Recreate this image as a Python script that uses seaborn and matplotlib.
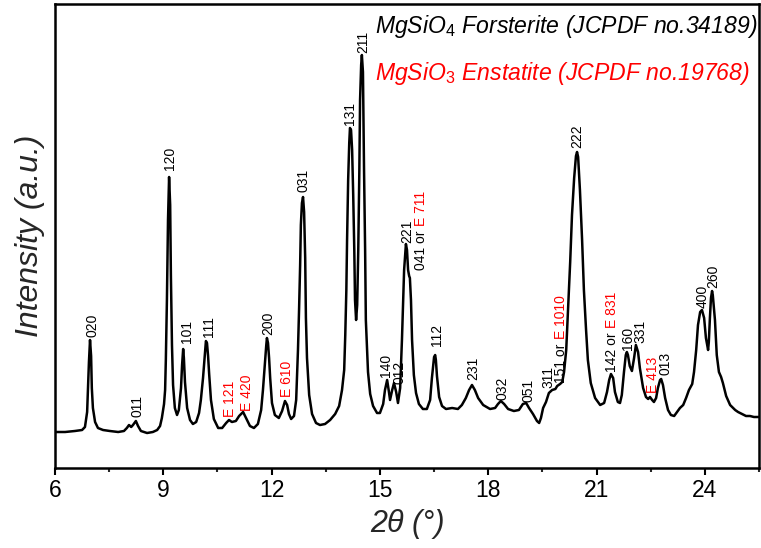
import numpy as np
import pandas as pd
import matplotlib
matplotlib.use("Agg")
import matplotlib.pyplot as plt
from matplotlib.ticker import MultipleLocator
import seaborn as sns

# XRD pattern: 2-theta (degrees) and intensity (arbitrary units)
two_theta = [
    6.03, 6.28, 6.55, 6.75, 6.83, 6.89, 6.91, 6.94, 6.97, 7.00, 7.02, 7.05, 7.11, 7.19, 7.33, 7.52,
    7.75, 7.91, 7.99, 8.05, 8.11, 8.16, 8.24, 8.30, 8.38, 8.55, 8.71, 8.83, 8.91, 8.96, 9.02, 9.05,
    9.07, 9.10, 9.13, 9.16, 9.19, 9.21, 9.24, 9.27, 9.32, 9.38, 9.43, 9.49, 9.52, 9.55, 9.57, 9.60,
    9.66, 9.74, 9.82, 9.91, 9.99, 10.04, 10.10, 10.16, 10.18, 10.21, 10.24, 10.27, 10.32, 10.40,
    10.52, 10.63, 10.74, 10.82, 10.90, 11.01, 11.10, 11.21, 11.29, 11.40, 11.51, 11.62, 11.71,
    11.76, 11.82, 11.85, 11.87, 11.90, 11.93, 11.96, 12.01, 12.09, 12.20, 12.29, 12.37, 12.43,
    12.48, 12.54, 12.62, 12.68, 12.73, 12.76, 12.79, 12.81, 12.84, 12.87, 12.90, 12.93, 12.95,
    12.98, 13.04, 13.12, 13.23, 13.34, 13.48, 13.62, 13.76, 13.87, 13.95, 14.01, 14.04, 14.07,
    14.09, 14.12, 14.15, 14.17, 14.20, 14.23, 14.26, 14.29, 14.31, 14.34, 14.37, 14.40, 14.43,
    14.45, 14.48, 14.50, 14.53, 14.56, 14.59, 14.61, 14.67, 14.73, 14.81, 14.92, 15.00, 15.09,
    15.14, 15.20, 15.25, 15.28, 15.34, 15.39, 15.45, 15.50, 15.56, 15.61, 15.67, 15.72, 15.75,
    15.78, 15.81, 15.83, 15.86, 15.89, 15.94, 16.00, 16.08, 16.19, 16.30, 16.39, 16.44, 16.50,
    16.53, 16.55, 16.58, 16.64, 16.72, 16.83, 17.00, 17.16, 17.27, 17.38, 17.47, 17.55, 17.63,
    17.72, 17.86, 18.05, 18.19, 18.27, 18.35, 18.44, 18.55, 18.71, 18.85, 18.96, 19.05, 19.13,
    19.24, 19.35, 19.41, 19.46, 19.52, 19.60, 19.68, 19.77, 19.86, 19.91, 19.99, 20.05, 20.10,
    20.16, 20.21, 20.27, 20.32, 20.38, 20.43, 20.46, 20.49, 20.54, 20.60, 20.65, 20.71, 20.76,
    20.84, 20.96, 21.10, 21.21, 21.29, 21.35, 21.40, 21.46, 21.51, 21.59, 21.65, 21.70, 21.76,
    21.81, 21.84, 21.87, 21.92, 21.98, 22.04, 22.09, 22.15, 22.20, 22.29, 22.37, 22.43, 22.48,
    22.54, 22.59, 22.65, 22.70, 22.76, 22.79, 22.84, 22.90, 22.98, 23.06, 23.15, 23.23, 23.31,
    23.40, 23.48, 23.56, 23.65, 23.70, 23.76, 23.81, 23.87, 23.92, 23.98, 24.03, 24.09, 24.11,
    24.14, 24.17, 24.20, 24.22, 24.28, 24.33, 24.39, 24.45, 24.50, 24.59, 24.70, 24.84, 24.92,
    25.03, 25.14, 25.25, 25.36, 25.50,
]
intensity = [
    36, 36, 37, 38, 41, 56, 76, 106, 128, 112, 80, 60, 46, 40, 38, 37,
    36, 37, 40, 43, 41, 43, 47, 42, 37, 35, 36, 38, 42, 50, 64, 78,
    108, 168, 248, 291, 263, 193, 123, 83, 60, 53, 58, 80, 103, 119, 110, 86,
    60, 48, 44, 46, 55, 68, 90, 118, 127, 125, 112, 94, 68, 49,
    40, 40, 45, 48, 46, 47, 52, 56, 50, 42, 40, 44, 58,
    78, 108, 122, 130, 125, 110, 90, 65, 53, 50, 57, 67, 63,
    54, 49, 52, 68, 118, 158, 203, 243, 265, 271, 256, 210, 150,
    110, 73, 54, 45, 43, 44, 48, 54, 62, 78, 98, 133, 178,
    228, 288, 325, 340, 338, 318, 273, 218, 168, 148, 163, 218, 298,
    368, 403, 413, 396, 298, 218, 148, 96, 74, 62, 55, 55, 64,
    78, 88, 76, 68, 78, 85, 76, 65, 80, 128, 198, 224, 218,
    198, 192, 190, 168, 128, 93, 75, 64, 59, 59, 68, 90, 111,
    113, 108, 92, 71, 62, 59, 60, 59, 63, 70, 78, 83, 78,
    70, 63, 59, 60, 64, 67, 64, 59, 57, 58, 64, 65, 60,
    54, 47, 45, 50, 60, 66, 75, 78, 79, 82, 84, 86, 96,
    118, 158, 206, 253, 290, 312, 316, 311, 278, 228, 178, 138, 108,
    85, 70, 63, 65, 76, 88, 94, 90, 76, 66, 65, 73, 96,
    113, 116, 113, 102, 97, 110, 123, 116, 100, 80, 71, 69, 71,
    68, 66, 70, 80, 88, 89, 83, 70, 58, 53, 52, 56, 60,
    63, 70, 78, 84, 96, 118, 143, 156, 158, 150, 130, 118, 126,
    150, 170, 177, 173, 148, 113, 96, 91, 85, 72, 63, 58, 56,
    54, 52, 52, 51, 51,
]

# Reflection assignments (forsterite in black, enstatite in red)
label_pos = [6.97, 8.24, 9.16, 9.55, 10.18, 10.82, 11.21, 11.87, 12.37, 12.87,
             14.17, 14.50, 15.20, 15.39, 15.72, 15.83, 16.53, 17.55, 18.35, 19.05,
             19.77, 19.99, 20.46, 21.40, 21.84, 22.09, 22.48, 22.79, 23.92, 24.20]
label_black = ["020", "011", "120", "101", "111", "", "", "200", "", "031",
               "131", "211", "140", "012", "221", "041 or", "112", "231", "032", "051",
               "311", "151 or", "222", "142 or", "160", "331", "", "013", "400", "260"]
label_red = ["", "", "", "", "", "E 121", "E 420", "", "E 610", "",
             "", "", "", "", "", "E 711", "", "", "", "",
             "", "E 1010", "", "E 831", "", "", "E 413", "", "", ""]

legend_lines = ["MgSiO$_4$ Forsterite (JCPDF no.34189)",
                "MgSiO$_3$ Enstatite (JCPDF no.19768)"]

# label offsets from the peak top, in points
label_offset = [(2, 2), (1, 3), (1, 5), (3, 4), (2, 3), (1, 2), (3, 1), (1, 2), (1.5, 3), (0.5, 3.5),
                (0, 2), (1, 1.5), (-0.8, 2), (4.2, -1), (1, 1), (8, 6), (1, 6.5), (1, 3.5), (1.5, 1), (1.5, 1),
                (-3, 1.5), (1, 1), (0.5, 3), (0.5, 1.5), (0.5, 1.5), (3.5, 1.5), (2, 3), (3, 3), (0.5, 1.5), (1, 2)]

sns.set_style("ticks")
plt.rcParams["font.family"] = ["Liberation Sans", "DejaVu Sans"]
plt.rcParams["mathtext.fontset"] = "custom"
plt.rcParams["mathtext.rm"] = "Liberation Sans"
plt.rcParams["mathtext.it"] = "Liberation Sans:italic"

df = pd.DataFrame({"two_theta": two_theta, "intensity": intensity})

fig = plt.figure(figsize=(7.61, 5.48), dpi=100)
ax = fig.add_axes([55 / 761, 80 / 548, 704 / 761, 464 / 548])

sns.lineplot(data=df, x="two_theta", y="intensity", color="black", linewidth=1.8,
             estimator=None, sort=False, ax=ax)

ax.set_xlim(6, 25.5)
ax.set_ylim(0, 464)

for side in ["left", "right", "top", "bottom"]:
    ax.spines[side].set_visible(True)
    ax.spines[side].set_linewidth(1.8)
    ax.spines[side].set_color("black")

ax.xaxis.set_major_locator(MultipleLocator(3))
ax.xaxis.set_minor_locator(MultipleLocator(1.5))
ax.tick_params(axis="x", which="major", direction="out", length=5, width=1.5,
               labelsize=16.5, pad=3, colors="black")
ax.tick_params(axis="x", which="minor", direction="out", length=3, width=1.5)
ax.tick_params(axis="y", which="both", left=False, labelleft=False)
ax.set_xticks([6, 9, 12, 15, 18, 21, 24])
ax.set_xticklabels(["6", "9", "12", "15", "18", "21", "24"])

ax.set_xlabel("2θ (°)", fontsize=22, fontstyle="italic", labelpad=5)
ax.set_ylabel("Intensity (a.u.)", fontsize=23, fontstyle="italic", labelpad=7)

# peak annotations
for pos, blk, red, (dx, dy) in zip(label_pos, label_black, label_red, label_offset):
    y0 = float(np.interp(pos, two_theta, intensity))
    kw = dict(rotation=90, ha="center", va="bottom", fontsize=10,
              textcoords="offset points")
    if blk:
        t = ax.annotate(blk, xy=(pos, y0), xytext=(dx, dy), color="black", **kw)
        if red:
            ax.annotate(red, xy=(0.5, 1.0), xycoords=t, xytext=(0, 2.8),
                        color="red", **kw)
    else:
        ax.annotate(red, xy=(pos, y0), xytext=(dx, dy), color="red", **kw)

ax.text(0.4545, 0.9375, legend_lines[0], transform=ax.transAxes, fontsize=16.6,
        fontstyle="italic", color="black", ha="left", va="baseline")
ax.text(0.4545, 0.836, legend_lines[1], transform=ax.transAxes, fontsize=16.6,
        fontstyle="italic", color="red", ha="left", va="baseline")

fig.savefig("out.png", dpi=100)
